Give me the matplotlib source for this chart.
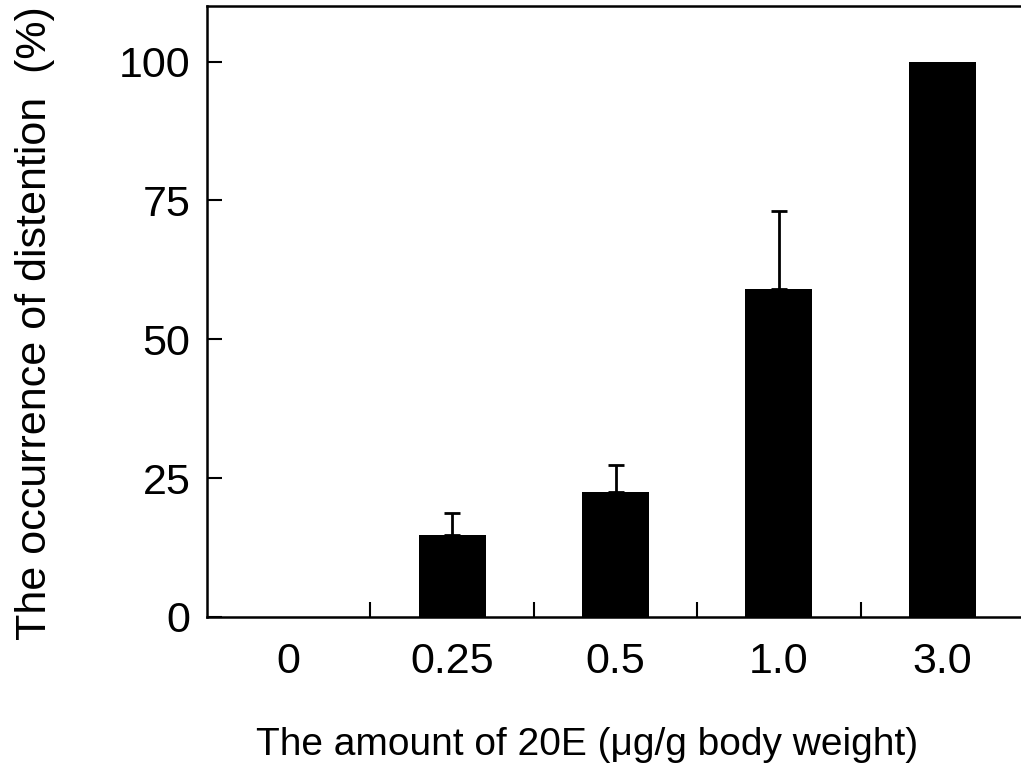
import numpy as np
import matplotlib
matplotlib.use("Agg")
import matplotlib.pyplot as plt

plt.rcParams['font.family'] = ['Liberation Sans', 'DejaVu Sans']

doses = ['0', '0.25', '0.5', '1.0', '3.0']
occurrence = [0, 14.8, 22.5, 59.1, 100]
errors = [0, 4.0, 4.9, 14.0, 0]

fig = plt.figure(figsize=(10.21, 7.75), dpi=100)
ax = fig.add_axes([207 / 1021, 158 / 775, 817 / 1021, 611 / 775])

x = np.arange(len(doses))
ax.bar(x, occurrence, width=0.41, color='black')
# только верхняя половина погрешности
err_x = [i for i in x if errors[i] > 0]
ax.errorbar(err_x, [occurrence[i] for i in err_x],
            yerr=[[0] * len(err_x), [errors[i] for i in err_x]],
            fmt='none', ecolor='black', elinewidth=2, capsize=6, capthick=2)

ax.set_xlim(-0.5, 4.5)
ax.set_ylim(0, 110)

ax.set_xticks(x[:-1] + 0.5)
ax.set_xticklabels([])
ax.set_xticks(x, minor=True)
ax.set_xticklabels(doses, minor=True, fontsize=31)
ax.tick_params(axis='x', which='major', direction='in', length=11, width=1.5)
ax.tick_params(axis='x', which='minor', length=0, pad=18)

ax.set_yticks([0, 25, 50, 75, 100])
ax.tick_params(axis='y', direction='in', length=11, width=1.5, labelsize=31, pad=12)

for s in ax.spines.values():
    s.set_linewidth(1.8)

ax.set_xlabel('The amount of 20E (μg/g body weight)', fontsize=28, va='center')
ax.xaxis.set_label_coords(0.465, -0.2095)
ax.set_ylabel('The occurrence of distention  (%)', fontsize=31, va='center')
ax.yaxis.set_label_coords(-0.21, 0.481)

fig.savefig('out.png', dpi=100)
